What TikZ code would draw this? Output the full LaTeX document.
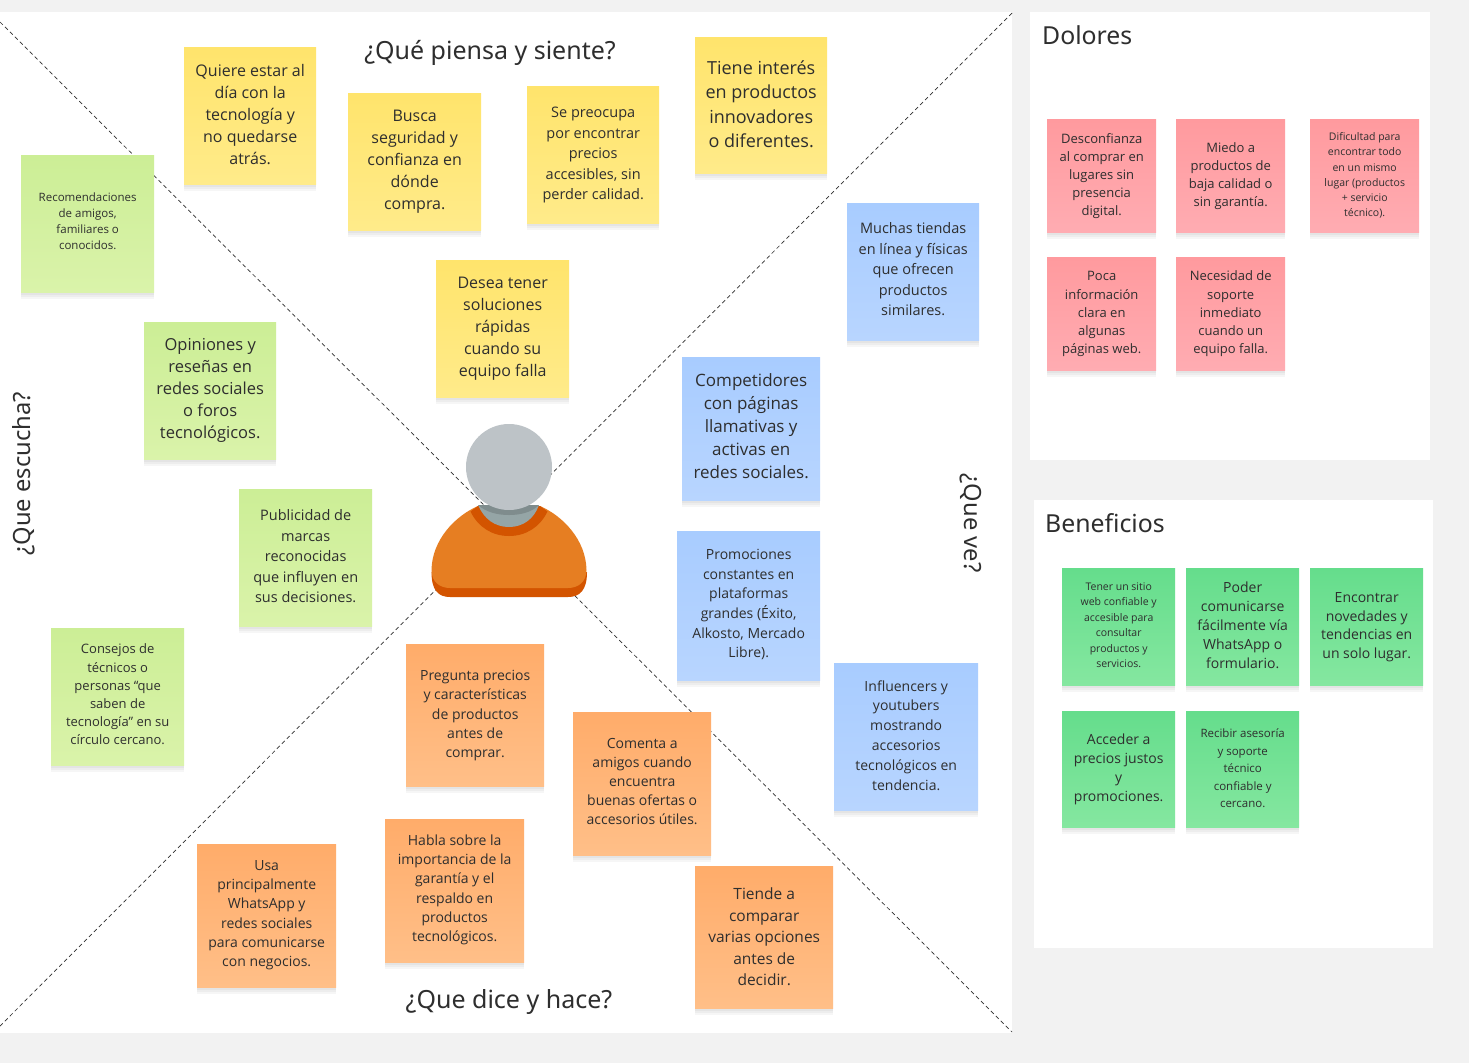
\documentclass[tikz,border=0pt]{standalone}
\usepackage{fontspec}
\setmainfont{Open Sans}
\newfontfamily\titlefont{Noto Sans}
\usetikzlibrary{shadows}

\definecolor{pagegray}{HTML}{F2F2F2}
\definecolor{inkgray}{HTML}{2E2E2E}
\definecolor{headgray}{HTML}{BDC3C7}
\definecolor{neckgray}{HTML}{95A5A6}
\definecolor{neckdark}{HTML}{7F8C8D}
\definecolor{shirtlight}{HTML}{E67E22}
\definecolor{shirtdark}{HTML}{D35400}

\def\notelift{0pt}

\tikzset{
    panel/.style={fill=white, draw=none},
    diagonal/.style={draw=inkgray, line width=0.7pt, dash pattern=on 4pt off 3pt},
    heading/.style={font=\titlefont\fontsize{25}{30}\selectfont, text=inkgray, inner sep=0pt},
    sideheading/.style={font=\titlefont\fontsize{23.7}{30}\selectfont, text=inkgray, inner sep=0pt},
    sidetitle/.style={font=\titlefont\fontsize{24.8}{30}\selectfont, text=inkgray, inner sep=0pt, anchor=west},
    softshadow/.style={general shadow={shadow xshift=0pt, shadow yshift=-#1pt, shadow scale=1, fill=black, opacity=0.035}},
    sticky/.style={anchor=north west, inner sep=0pt, align=center, text=inkgray,
        softshadow=1, softshadow=3, softshadow=5, softshadow=7},
    nudge/.code={\def\notelift{#1pt}},
    noteyellow/.style={sticky, top color={rgb,255:red,255;green,228;blue,108}, bottom color={rgb,255:red,255;green,235;blue,138}},
    notelime/.style={sticky, top color={rgb,255:red,204;green,238;blue,150}, bottom color={rgb,255:red,218;green,243;blue,170}},
    noteblue/.style={sticky, top color={rgb,255:red,168;green,204;blue,255}, bottom color={rgb,255:red,184;green,213;blue,255}},
    noteorange/.style={sticky, top color={rgb,255:red,255;green,172;blue,106}, bottom color={rgb,255:red,255;green,191;blue,136}},
    notered/.style={sticky, top color={rgb,255:red,255;green,154;blue,158}, bottom color={rgb,255:red,255;green,172;blue,178}},
    notegreen/.style={sticky, top color={rgb,255:red,101;green,221;blue,140}, bottom color={rgb,255:red,133;green,231;blue,160}},
}

\begin{document}
\begin{tikzpicture}[x=1pt, y=-1pt]
    \useasboundingbox (0, 0) rectangle (1469, 1063);
    \fill[pagegray] (0, 0) rectangle (1469, 1063);

    % panels
    \fill[panel] (0, 12) rectangle (1012, 1033);
    \fill[panel] (1030, 12) rectangle (1430, 460);
    \fill[panel] (1034, 500) rectangle (1433, 948);

    \coordinate (cornerNW) at (0, 22);
    \coordinate (cornerSE) at (1012, 1032);
    \coordinate (cornerNE) at (1012, 13);
    \coordinate (cornerSW) at (0, 1026);
    \draw[diagonal] (cornerNW) -- (cornerSE);
    \draw[diagonal] (cornerNE) -- (cornerSW);

    % person in the middle
    \fill[shirtdark] (431.5, 572) .. controls (431.5, 590) and (438, 597) .. (450, 597)
        -- (568, 597) .. controls (580, 597) and (587, 590) .. (587, 572) -- cycle;
    \fill[shirtlight] (431.5, 570) .. controls (432, 540) and (455, 516) .. (478, 506)
        -- (540, 506) .. controls (563, 516) and (586, 540) .. (586.5, 570)
        .. controls (586.5, 582) and (578, 588) .. (568, 588)
        -- (450, 588) .. controls (440, 588) and (431.5, 582) .. (431.5, 570) -- cycle;
    \fill[shirtdark] (470.5, 511.5) .. controls (478, 527) and (492, 536) .. (509, 536)
        .. controls (526, 536) and (540, 527) .. (547.5, 511.5) -- (540, 506) -- (478, 506) -- cycle;
    \fill[neckgray] (478, 505) .. controls (484, 519) and (495, 527) .. (509, 527)
        .. controls (523, 527) and (534, 519) .. (539, 505) -- cycle;
    \fill[neckdark] (478, 505) .. controls (486, 512) and (497, 515) .. (509, 515)
        .. controls (521, 515) and (532, 512) .. (539, 505) -- cycle;
    \node[circle, fill=headgray, minimum size=86pt, inner sep=0pt] (head) at (509, 467) {};

    \newcommand{\notebox}[9]{
        \node[#6, minimum width=#4pt, minimum height=#5pt, font=\fontsize{#7}{#8}\selectfont] (#1) at (#2, #3)
            {\raisebox{\notelift}[\height][\depth]{\begin{tabular}{@{}c@{}}#9\end{tabular}}};
    }

    % que piensa y siente
    \notebox{quiere}{184}{47}{132}{137}{noteyellow}{16}{22}{Quiere estar al\\día con la\\tecnología y\\no quedarse\\atrás.}
    \notebox{busca}{348}{93}{133}{137}{noteyellow, nudge=1}{16}{22}{Busca\\seguridad y\\confianza en\\dónde\\compra.}
    \notebox{preocupa}{527}{86}{132}{137}{noteyellow}{14.5}{20.5}{Se preocupa\\por encontrar\\precios\\accesibles, sin\\perder calidad.}
    \notebox{interes}{695}{37}{132}{136}{noteyellow, nudge=-1}{18}{24.5}{Tiene interés\\en productos\\innovadores\\o diferentes.}
    \notebox{desea}{436}{260}{133}{137}{noteyellow, nudge=1}{16}{22}{Desea tener\\soluciones\\rápidas\\cuando su\\equipo falla}

    % que escucha
    \notebox{recomienda}{21}{155}{133}{137}{notelime, nudge=1}{11.5}{16}{Recomendaciones\\de amigos,\\familiares o\\conocidos.}
    \notebox{opiniones}{144}{322}{132}{137}{notelime, nudge=1}{16.5}{22}{Opiniones y\\reseñas en\\redes sociales\\o foros\\tecnológicos.}
    \notebox{publicidad}{239}{489}{133}{137}{notelime}{14.5}{20.5}{Publicidad de\\marcas\\reconocidas\\que influyen en\\sus decisiones.}
    \notebox{consejos}{51}{628}{133}{137}{notelime, nudge=1}{13}{18.2}{Consejos de\\técnicos o\\personas “que\\saben de\\tecnología” en su\\círculo cercano.}

    % que ve
    \notebox{muchas}{847}{203}{132}{137}{noteblue, nudge=1}{14.5}{20.5}{Muchas tiendas\\en línea y físicas\\que ofrecen\\productos\\similares.}
    \notebox{competidores}{682}{357}{138}{143}{noteblue, nudge=1}{17}{23}{Competidores\\con páginas\\llamativas y\\activas en\\redes sociales.}
    \notebox{promociones}{677}{531}{143}{149}{noteblue, nudge=1}{14}{19.7}{Promociones\\constantes en\\plataformas\\grandes (Éxito,\\Alkosto, Mercado\\Libre).}
    \notebox{influencers}{834}{663}{144}{147}{noteblue}{14}{19.8}{Influencers y\\youtubers\\mostrando\\accesorios\\tecnológicos en\\tendencia.}

    % que dice y hace
    \notebox{pregunta}{406}{644}{138}{142}{noteorange}{14}{19.4}{Pregunta precios\\y características\\de productos\\antes de\\comprar.}
    \notebox{comenta}{573}{712}{138}{143}{noteorange, nudge=1}{14}{19}{Comenta a\\amigos cuando\\encuentra\\buenas ofertas o\\accesorios útiles.}
    \notebox{usa}{197}{844}{139}{143}{noteorange, nudge=1}{14}{19.2}{Usa\\principalmente\\WhatsApp y\\redes sociales\\para comunicarse\\con negocios.}
    \notebox{habla}{385}{819}{139}{143}{noteorange, nudge=1}{14}{19.2}{Habla sobre la\\importancia de la\\garantía y el\\respaldo en\\productos\\tecnológicos.}
    \notebox{tiende}{695}{866}{138}{142}{noteorange, nudge=-1}{15.5}{21.5}{Tiende a\\comparar\\varias opciones\\antes de\\decidir.}

    % dolores
    \notebox{desconfianza}{1047}{119}{109}{113}{notered}{13}{18}{Desconfianza\\al comprar en\\lugares sin\\presencia\\digital.}
    \notebox{miedo}{1176}{119}{109}{113}{notered}{13}{18}{Miedo a\\productos de\\baja calidad o\\sin garantía.}
    \notebox{dificultad}{1310}{119}{109}{113}{notered}{10.5}{15.2}{Dificultad para\\encontrar todo\\en un mismo\\lugar (productos\\+ servicio\\técnico).}
    \notebox{poca}{1047}{257}{109}{113}{notered}{13}{18.2}{Poca\\información\\clara en\\algunas\\páginas web.}
    \notebox{necesidad}{1176}{257}{109}{113}{notered}{13}{18.2}{Necesidad de\\soporte\\inmediato\\cuando un\\equipo falla.}

    % beneficios
    \notebox{tener}{1062}{568}{113}{117}{notegreen, nudge=1}{10.5}{15.5}{Tener un sitio\\web confiable y\\accesible para\\consultar\\productos y\\servicios.}
    \notebox{poder}{1186}{568}{113}{117}{notegreen}{14}{18.8}{Poder\\comunicarse\\fácilmente vía\\WhatsApp o\\formulario.}
    \notebox{encontrar}{1310}{568}{113}{117}{notegreen}{14}{18.7}{Encontrar\\novedades y\\tendencias en\\un solo lugar.}
    \notebox{acceder}{1062}{711}{113}{116}{notegreen}{14}{18.7}{Acceder a\\precios justos\\y\\promociones.}
    \notebox{recibir}{1186}{711}{113}{116}{notegreen}{11.5}{17.5}{Recibir asesoría\\y soporte\\técnico\\confiable y\\cercano.}

    % titles
    \node[heading] (piensa) at (490, 53) {¿Qué piensa y siente?};
    \node[heading] (dice) at (509, 1002) {¿Que dice y hace?};
    \node[sideheading, rotate=90] (escucha) at (24, 474) {¿Que escucha?};
    \node[sideheading, rotate=270] (ve) at (971, 523) {¿Que ve?};
    \node[sidetitle] (dolores) at (1042, 35) {Dolores};
    \node[sidetitle] (beneficios) at (1045, 523) {Beneficios};
\end{tikzpicture}
\end{document}
